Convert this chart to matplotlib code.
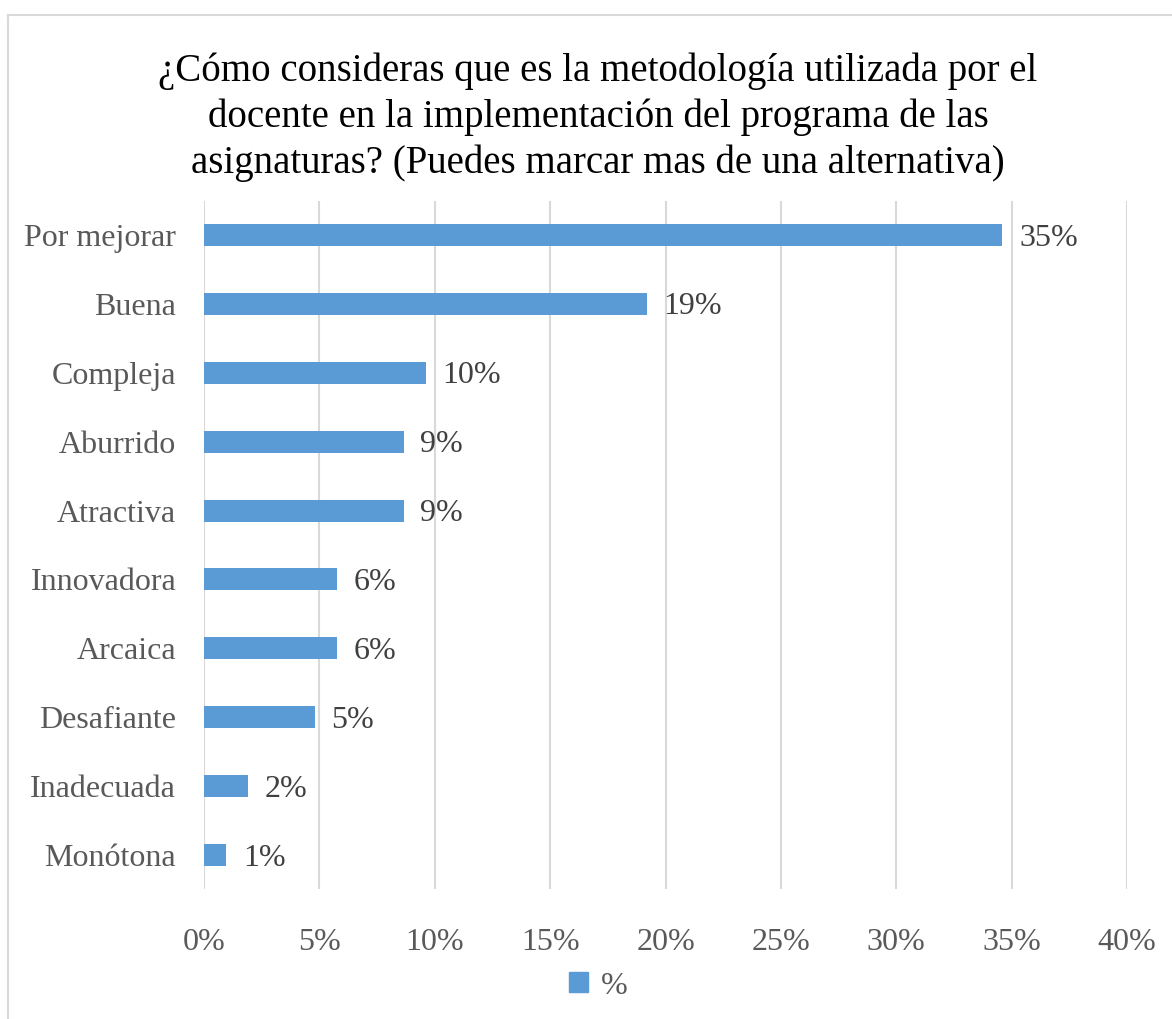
import matplotlib
matplotlib.use("Agg")
import matplotlib.pyplot as plt
from matplotlib.patches import Rectangle
from matplotlib.lines import Line2D

categories = ["Por mejorar", "Buena", "Compleja", "Aburrido", "Atractiva",
              "Innovadora", "Arcaica", "Desafiante", "Inadecuada", "Monótona"]
values = [34.6, 19.2, 9.6, 8.65, 8.65, 5.77, 5.77, 4.8, 1.92, 0.96]
labels = ["35%", "19%", "10%", "9%", "9%", "6%", "6%", "5%", "2%", "1%"]
xticks = [0, 5, 10, 15, 20, 25, 30, 35, 40]
xtick_labels = [f"{t}%" for t in xticks]
title = ("¿Cómo consideras que es la metodología utilizada por el\n"
         "docente en la implementación del programa de las\n"
         "asignaturas? (Puedes marcar mas de una alternativa)")
legend_label = "%"

plt.rcParams['font.family'] = ['Liberation Serif', 'DejaVu Serif']

W, H = 1172, 1019
fig = plt.figure(figsize=(W / 100, H / 100), dpi=100)
fig.patch.set_facecolor("white")

# chart border (left & top visible)
fig.add_artist(Line2D([7.5 / W, 7.5 / W], [0, 1 - 14.5 / H], transform=fig.transFigure,
                      color="#d9d9d9", lw=1.5))
fig.add_artist(Line2D([7.5 / W, 1.0], [1 - 14.5 / H, 1 - 14.5 / H], transform=fig.transFigure,
                      color="#d9d9d9", lw=1.5))

ax = fig.add_axes([204 / W, 1 - 889.4 / H, (1127 - 204) / W, (889.4 - 200.6) / H])
bar_color = "#5B9BD5"
y = list(range(len(categories)))
ax.barh(y, values, height=0.32, color=bar_color, zorder=3)
for yi, v, lab in zip(y, values, labels):
    ax.annotate(lab, (v, yi), xytext=(12, -7.6), textcoords="offset points",
                ha="left", va="baseline", fontsize=23, color="#404040")

ax.set_xlim(0, 40)
ax.set_ylim(len(categories) - 0.5, -0.5)
ax.set_xticks(xticks)
ax.set_xticklabels(xtick_labels)
ax.set_yticks(y)
ax.set_yticklabels(categories)
ax.tick_params(axis="both", length=0, labelsize=23, labelcolor="#595959")
ax.tick_params(axis="y", pad=20)
ax.tick_params(axis="x", pad=28)
ax.grid(axis="x", color="#d9d9d9", lw=1.5, zorder=0)
ax.set_axisbelow(True)
for s in ax.spines.values():
    s.set_visible(False)

fig.text(598 / W, 1 - 117 / H, title, ha="center", va="center", fontsize=28,
         color="#000000", linespacing=1.3)

handle = Rectangle((0, 0), 1, 1, color=bar_color)
fig.legend([handle], [legend_label], loc="center", bbox_to_anchor=(598 / W, 1 - 986 / H),
           frameon=False, fontsize=23, handlelength=0.6, handleheight=0.6,
           handletextpad=0.4, labelcolor="#595959")

fig.savefig("out.png", dpi=100)
